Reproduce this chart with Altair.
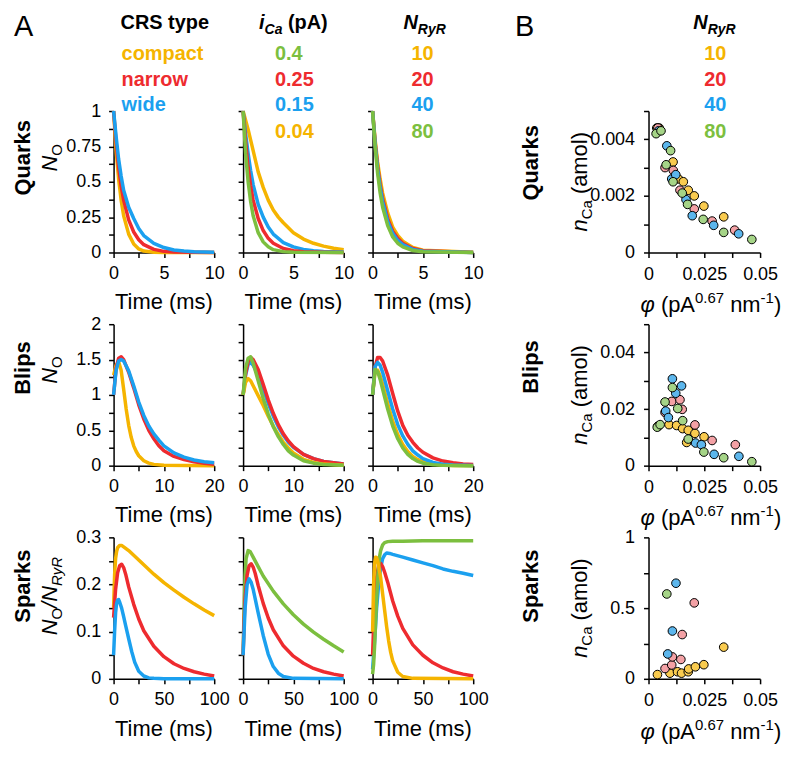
import json
import altair as alt
import pandas as pd

FONT = "Liberation Sans"
YEL, RED, BLU, GRN = "#F5B400", "#EE2B2F", "#1BA0EF", "#7CBF3F"
SYEL, SRED, SBLU, SGRN = "#F9CB4F", "#F3A1A5", "#5CB6EC", "#A5D487"

W1, W4, H = 101, 112, 142
SPACER = 118

# ---------------- legend / header text ----------------
ROW_NAMES = ["Quarks", "Blips", "Sparks"]
CRS_LABELS = ["compact", "narrow", "wide"]
CRS_COLORS = [YEL, RED, BLU]
ICA_LABELS = ["0.4", "0.25", "0.15", "0.04"]
ICA_COLORS = [GRN, RED, BLU, YEL]
NRYR_LABELS = ["10", "20", "40", "80"]
NRYR_COLORS = [YEL, RED, BLU, GRN]

# ---------------- axis ticks (all tick positions, labelled ones, their labels) ----------------
Q_XT = [0, 2.5, 5, 7.5, 10]; Q_XM = [0, 5, 10]; Q_XL = ["0", "5", "10"]
Q_YT = [0, 0.125, 0.25, 0.375, 0.5, 0.625, 0.75, 0.875, 1]
Q_YM = [0, 0.25, 0.5, 0.75, 1]; Q_YL = ["0", "0.25", "0.5", "0.75", "1"]
B_XT = [0, 5, 10, 15, 20]; B_XM = [0, 10, 20]; B_XL = ["0", "10", "20"]
B_YT = [0, 0.25, 0.5, 0.75, 1, 1.25, 1.5, 1.75, 2]
B_YM = [0, 0.5, 1, 1.5, 2]; B_YL = ["0", "0.5", "1", "1.5", "2"]
S_XT = [0, 25, 50, 75, 100]; S_XM = [0, 50, 100]; S_XL = ["0", "50", "100"]
S_YT = [0, 0.05, 0.1, 0.15, 0.2, 0.25, 0.3]; S_YM = [0, 0.1, 0.2, 0.3]; S_YL = ["0", "0.1", "0.2", "0.3"]
P_XT = [0, 0.0125, 0.025, 0.0375, 0.05]; P_XM = [0, 0.025, 0.05]; P_XL = ["0", "0.025", "0.05"]
PQ_YT = [0, 0.001, 0.002, 0.003, 0.004, 0.005]; PQ_YM = [0, 0.002, 0.004]; PQ_YL = ["0", "0.002", "0.004"]
PB_YT = [0, 0.01, 0.02, 0.03, 0.04, 0.05]; PB_YM = [0, 0.02, 0.04]; PB_YL = ["0", "0.02", "0.04"]
PS_YT = [0, 0.25, 0.5, 0.75, 1]; PS_YM = [0, 0.5, 1]; PS_YL = ["0", "0.5", "1"]

# ---------------- Quarks: CRS type ----------------
QC_YEL_T = [0, 0.25, 0.5, 0.75, 1, 1.5, 2, 2.5, 3, 4, 5, 10]
QC_YEL_V = [1.0, 0.72, 0.52, 0.37, 0.26, 0.13, 0.06, 0.025, 0.01, 0.002, 0, 0]
QC_RED_T = [0, 0.25, 0.5, 0.75, 1, 1.5, 2, 2.5, 3, 4, 5, 6, 10]
QC_RED_V = [1.0, 0.78, 0.6, 0.47, 0.37, 0.23, 0.145, 0.09, 0.055, 0.022, 0.008, 0.003, 0]
QC_BLU_T = [0, 0.25, 0.5, 0.75, 1, 1.5, 2, 2.5, 3, 4, 5, 6, 7, 8, 10]
QC_BLU_V = [1.0, 0.82, 0.66, 0.54, 0.44, 0.32, 0.24, 0.17, 0.12, 0.065, 0.035, 0.018, 0.01, 0.005, 0.002]
# ---------------- Quarks: iCa ----------------
QI_GRN_T = [0, 0.25, 0.5, 0.75, 1, 1.5, 2, 2.5, 3, 4, 5, 10]
QI_GRN_V = [1.0, 0.7, 0.5, 0.36, 0.26, 0.14, 0.075, 0.04, 0.02, 0.006, 0.002, 0]
QI_RED_T = [0, 0.25, 0.5, 0.75, 1, 1.5, 2, 2.5, 3, 4, 5, 6, 8, 10]
QI_RED_V = [1.0, 0.78, 0.6, 0.47, 0.37, 0.24, 0.155, 0.1, 0.065, 0.028, 0.012, 0.005, 0.001, 0]
QI_BLU_T = [0, 0.25, 0.5, 0.75, 1, 1.5, 2, 2.5, 3, 4, 5, 6, 7, 8, 10]
QI_BLU_V = [1.0, 0.84, 0.7, 0.58, 0.48, 0.34, 0.25, 0.18, 0.13, 0.07, 0.04, 0.022, 0.012, 0.007, 0.003]
QI_YEL_T = [0, 0.5, 1, 1.5, 2, 2.5, 3, 3.5, 4, 5, 6, 7, 8, 9, 10]
QI_YEL_V = [1.0, 0.87, 0.72, 0.57, 0.46, 0.37, 0.3, 0.25, 0.21, 0.14, 0.095, 0.065, 0.045, 0.03, 0.02]
# ---------------- Quarks: NRyR ----------------
QN_T = [0, 0.25, 0.5, 0.75, 1, 1.5, 2, 2.5, 3, 4, 5, 10]
QN_YEL_V = [1.0, 0.8, 0.64, 0.52, 0.42, 0.28, 0.18, 0.12, 0.08, 0.036, 0.016, 0.001]
QN_RED_V = [1.0, 0.78, 0.61, 0.48, 0.38, 0.24, 0.15, 0.1, 0.065, 0.028, 0.012, 0]
QN_BLU_V = [1.0, 0.77, 0.59, 0.46, 0.36, 0.22, 0.135, 0.085, 0.055, 0.022, 0.009, 0]
QN_GRN_V = [1.0, 0.75, 0.56, 0.42, 0.32, 0.19, 0.11, 0.065, 0.04, 0.014, 0.005, 0]

# ---------------- Blips: CRS type ----------------
BC_YEL_T = [0, 0.5, 1, 1.5, 2, 2.5, 3, 3.5, 4, 4.5, 5, 6, 7, 8, 10, 20]
BC_YEL_V = [1.28, 1.42, 1.47, 1.35, 1.08, 0.8, 0.57, 0.4, 0.28, 0.2, 0.14, 0.07, 0.035, 0.018, 0.005, 0]
BC_T = [0, 0.5, 1, 1.5, 2, 3, 4, 5, 6, 7, 8, 9, 10, 12, 14, 16, 18, 20]
BC_RED_V = [1.0, 1.38, 1.52, 1.54, 1.5, 1.32, 1.1, 0.86, 0.66, 0.5, 0.38, 0.28, 0.21, 0.13, 0.085, 0.055, 0.035, 0.02]
BC_BLU_V = [1.0, 1.35, 1.48, 1.5, 1.48, 1.34, 1.13, 0.9, 0.71, 0.56, 0.45, 0.36, 0.28, 0.18, 0.12, 0.08, 0.055, 0.04]
# ---------------- Blips: iCa ----------------
BI_T = [0, 0.5, 1, 1.5, 2, 3, 4, 5, 6, 7, 8, 9, 10, 12, 14, 16, 20]
BI_GRN_V = [1.0, 1.38, 1.52, 1.54, 1.45, 1.2, 0.95, 0.73, 0.55, 0.41, 0.3, 0.21, 0.15, 0.07, 0.035, 0.017, 0.005]
BI_YEL_V = [1.0, 1.18, 1.23, 1.2, 1.13, 0.99, 0.85, 0.7, 0.56, 0.44, 0.33, 0.25, 0.18, 0.09, 0.045, 0.022, 0.006]
BI_RED_V = [1.0, 1.3, 1.47, 1.53, 1.5, 1.36, 1.15, 0.93, 0.74, 0.58, 0.45, 0.35, 0.27, 0.16, 0.1, 0.06, 0.025]
BI_BLU_V = [1.0, 1.28, 1.43, 1.46, 1.42, 1.28, 1.09, 0.88, 0.7, 0.55, 0.43, 0.33, 0.26, 0.16, 0.1, 0.06, 0.025]
# ---------------- Blips: NRyR ----------------
BN_T = [0, 0.5, 1, 1.5, 2, 3, 4, 5, 6, 7, 8, 9, 10, 12, 14, 16, 18, 20]
BN_RED_V = [1.0, 1.4, 1.53, 1.53, 1.48, 1.28, 1.02, 0.77, 0.57, 0.43, 0.33, 0.25, 0.19, 0.11, 0.065, 0.04, 0.025, 0.015]
BN_BLU_V = [1.0, 1.4, 1.46, 1.42, 1.32, 1.06, 0.8, 0.58, 0.42, 0.3, 0.21, 0.15, 0.1, 0.045, 0.02, 0.01, 0.005, 0.003]
BN_YEL_V = [1.0, 1.33, 1.35, 1.27, 1.15, 0.88, 0.63, 0.44, 0.3, 0.2, 0.13, 0.085, 0.055, 0.022, 0.008, 0.003, 0.001, 0]
BN_GRN_V = [1.0, 1.36, 1.33, 1.22, 1.08, 0.8, 0.56, 0.38, 0.25, 0.16, 0.1, 0.06, 0.035, 0.012, 0.004, 0.001, 0, 0]

# ---------------- Sparks: CRS type ----------------
SC_YEL_T = [0, 1, 2, 3, 4, 6, 8, 10, 15, 20, 30, 40, 50, 60, 70, 80, 90, 100]
SC_YEL_V = [0.15, 0.22, 0.255, 0.27, 0.278, 0.283, 0.283, 0.28, 0.272, 0.262, 0.242, 0.222, 0.204, 0.188, 0.173, 0.159, 0.146, 0.134]
SC_RED_T = [0, 1, 2, 4, 6, 8, 10, 12, 15, 20, 25, 30, 40, 50, 60, 70, 80, 90, 100]
SC_RED_V = [0.13, 0.16, 0.19, 0.225, 0.24, 0.243, 0.236, 0.222, 0.195, 0.158, 0.127, 0.102, 0.069, 0.047, 0.032, 0.022, 0.015, 0.01, 0.006]
SC_BLU_T = [0, 1, 2, 3, 4, 5, 6, 8, 10, 12, 15, 18, 21, 25, 30, 35, 40, 50, 100]
SC_BLU_V = [0.05, 0.1, 0.14, 0.16, 0.167, 0.168, 0.163, 0.15, 0.132, 0.113, 0.085, 0.058, 0.035, 0.016, 0.006, 0.002, 0.001, 0, 0]
# ---------------- Sparks: iCa ----------------
SI_GRN_T = [0, 1, 2, 3, 5, 7, 10, 15, 20, 30, 40, 50, 60, 70, 80, 90, 100]
SI_GRN_V = [0.05, 0.15, 0.22, 0.255, 0.272, 0.27, 0.258, 0.238, 0.218, 0.186, 0.159, 0.136, 0.116, 0.099, 0.084, 0.07, 0.057]
SI_RED_T = [0, 1, 2, 4, 6, 8, 10, 12, 15, 20, 25, 30, 40, 50, 60, 70, 80, 90, 100]
SI_RED_V = [0.05, 0.12, 0.17, 0.22, 0.24, 0.244, 0.237, 0.224, 0.198, 0.16, 0.129, 0.104, 0.07, 0.048, 0.033, 0.022, 0.015, 0.01, 0.006]
SI_BLU_T = [0, 1, 2, 4, 6, 8, 10, 12, 15, 20, 25, 30, 35, 40, 50, 100]
SI_BLU_V = [0.05, 0.1, 0.15, 0.2, 0.212, 0.205, 0.19, 0.17, 0.14, 0.092, 0.052, 0.026, 0.012, 0.005, 0.001, 0]
# ---------------- Sparks: NRyR ----------------
SN_YEL_T = [0, 1, 2, 3, 4, 5, 6, 8, 10, 12, 14, 16, 18, 20, 25, 30, 40, 100]
SN_YEL_V = [0.1, 0.2, 0.245, 0.258, 0.257, 0.25, 0.24, 0.215, 0.18, 0.145, 0.11, 0.08, 0.056, 0.038, 0.014, 0.005, 0.001, 0]
SN_RED_T = [0, 1, 2, 4, 6, 8, 10, 12, 15, 20, 25, 30, 40, 50, 60, 70, 80, 90, 100]
SN_RED_V = [0.05, 0.11, 0.16, 0.215, 0.24, 0.245, 0.238, 0.226, 0.205, 0.165, 0.133, 0.107, 0.072, 0.05, 0.034, 0.023, 0.015, 0.01, 0.006]
SN_BLU_T = [0, 2, 4, 6, 8, 10, 12, 14, 17, 20, 30, 40, 50, 60, 70, 80, 90, 100]
SN_BLU_V = [0.02, 0.08, 0.15, 0.2, 0.235, 0.255, 0.263, 0.267, 0.266, 0.264, 0.258, 0.252, 0.246, 0.24, 0.233, 0.228, 0.224, 0.219]
SN_GRN_T = [0, 1, 2, 3, 4, 5, 6, 7, 8, 10, 12, 15, 20, 30, 50, 70, 100]
SN_GRN_V = [0.01, 0.03, 0.07, 0.12, 0.17, 0.21, 0.24, 0.26, 0.272, 0.284, 0.289, 0.291, 0.292, 0.292, 0.293, 0.293, 0.293]

# ---------------- Panel B scatter (phi, nCa) ----------------
PQ_YEL_X = [0.0037, 0.0048, 0.011, 0.0134, 0.0156, 0.0178, 0.0205, 0.0248, 0.0337]
PQ_YEL_Y = [0.0044, 0.0044, 0.0032, 0.0026, 0.0025, 0.0022, 0.0020, 0.00164, 0.00126]
PQ_RED_X = [0.0042, 0.0074, 0.0111, 0.0141, 0.0205, 0.0285, 0.0386]
PQ_RED_Y = [0.0044, 0.0030, 0.0029, 0.0022, 0.00154, 0.00111, 0.00079]
PQ_BLU_X = [0.0045, 0.0082, 0.0104, 0.0122, 0.0168, 0.0196, 0.0292, 0.0404]
PQ_BLU_Y = [0.0043, 0.00377, 0.0026, 0.00275, 0.00187, 0.0013, 0.00096, 0.00066]
PQ_GRN_X = [0.0034, 0.0056, 0.0079, 0.0099, 0.011, 0.0151, 0.0175, 0.0245, 0.0337, 0.0463]
PQ_GRN_Y = [0.0042, 0.0043, 0.0031, 0.0036, 0.0025, 0.0021, 0.0017, 0.00117, 0.00071, 0.00046]

PB_YEL_X = [0.0042, 0.0092, 0.0126, 0.0153, 0.0178, 0.0171, 0.0208, 0.0249]
PB_YEL_Y = [0.0139, 0.0145, 0.0142, 0.0131, 0.0125, 0.0082, 0.0114, 0.0102]
PB_RED_X = [0.0042, 0.0074, 0.0104, 0.0141, 0.0151, 0.0208, 0.0285, 0.0389]
PB_RED_Y = [0.0139, 0.0188, 0.0227, 0.0233, 0.0199, 0.0144, 0.0089, 0.0074]
PB_BLU_X = [0.0077, 0.0089, 0.0107, 0.0122, 0.0148, 0.0211, 0.0237, 0.0294, 0.0405]
PB_BLU_Y = [0.0193, 0.017, 0.0307, 0.0256, 0.0282, 0.008, 0.0074, 0.004, 0.0033]
PB_GRN_X = [0.0039, 0.0052, 0.0074, 0.0107, 0.0131, 0.0153, 0.0178, 0.0248, 0.0337, 0.0463]
PB_GRN_Y = [0.0136, 0.0145, 0.0225, 0.0276, 0.0202, 0.0159, 0.0094, 0.0048, 0.0028, 0.0014]

PS_YEL_X = [0.004, 0.0096, 0.013, 0.0148, 0.0178, 0.018, 0.021, 0.0248, 0.0337]
PS_YEL_Y = [0.03, 0.04, 0.05, 0.04, 0.05, 0.07, 0.085, 0.10, 0.224]
PS_RED_X = [0.0074, 0.0104, 0.0107, 0.0145, 0.0151, 0.0205]
PS_RED_Y = [0.073, 0.098, 0.155, 0.137, 0.313, 0.537]
PS_BLU_X = [0.0086, 0.0107, 0.0123]
PS_BLU_Y = [0.176, 0.338, 0.676]
PS_GRN_X = [0.0082]
PS_GRN_Y = [0.60]

# ---------------- helpers ----------------
ONE = pd.DataFrame({"k": [0]})

W_REG = {" ": 278, "(": 333, ")": 333, "p": 556, "A": 667, ".": 278, "n": 556,
         "m": 833, "-": 333, "/": 278, "N": 722, "O": 778, "R": 722, "y": 500,
         "C": 722, "a": 556, "o": 556, "l": 222, "i": 222, "\u03c6": 650}
W_BOLD = {" ": 278, "(": 333, ")": 333, "p": 611, "A": 722, ".": 278, "N": 722,
          "R": 722, "y": 556, "C": 722, "a": 556, "i": 278, "t": 333, "e": 556, "S": 667}


def tw(s, size, bold=False):
    tab = W_BOLD if bold else W_REG
    return sum(tab.get(c, 556) for c in s) / 1000.0 * size


def txt(s, x, y, size, color="black", weight="normal", style="normal",
        angle=0, align="left", baseline="alphabetic"):
    return alt.Chart(ONE).mark_text(
        text=s, font=FONT, fontSize=size, fontWeight=weight, fontStyle=style,
        color=color, angle=angle, align=align, baseline=baseline
    ).encode(x=alt.value(x), y=alt.value(y))


def compose(pieces, x, y, rotated=False, center=True):
    """pieces: (text, size, style, weight, shift) ; shift>0 = subscript."""
    total = sum(tw(p[0], p[1], p[3] == "bold") for p in pieces)
    out = []
    acc = 0.0
    start = (x - total / 2 if center else x) if not rotated else (y + total / 2 if center else y)
    for s, size, style, weight, shift in pieces:
        bold = weight == "bold"
        lead = tw(" " * (len(s) - len(s.lstrip(" "))), size, bold)
        core = s.strip(" ")
        if not rotated:
            out.append(txt(core, start + acc + lead, y + shift, size, weight=weight, style=style))
        else:
            out.append(txt(core, x + shift, start - acc - lead, size, weight=weight, style=style, angle=270))
        acc += tw(s, size, bold)
    return out


def make_axis(values, major, names, labels=True, pad=8):
    kw = dict(values=values, title=None, grid=False, domainColor="black", domainWidth=1.5,
              tickColor="black", tickWidth=1.5, tickSize=5, labels=labels, labelFont=FONT,
              labelFontSize=18, labelColor="black", labelPadding=pad, labelFlush=False,
              labelOverlap=False)
    if labels:
        m, n = json.dumps(major), json.dumps(names)
        kw["labelExpr"] = "indexof(%s, datum.value) >= 0 ? %s[indexof(%s, datum.value)] : ''" % (m, n, m)
    return alt.Axis(**kw)


def line_panel(series, xdom, ydom, xax_spec, yax_spec, ylabels, extras):
    xax = make_axis(*xax_spec, labels=True, pad=7)
    yax = make_axis(*yax_spec, labels=ylabels, pad=8)
    xs = alt.Scale(domain=xdom, nice=False, zero=False)
    ys = alt.Scale(domain=ydom, nice=False, zero=False)
    layers = []
    for t, v, c in series:
        df = pd.DataFrame({"t": t, "v": v})
        layers.append(alt.Chart(df).mark_line(color=c, strokeWidth=3.5, strokeJoin="round").encode(
            x=alt.X("t:Q", scale=xs, axis=xax), y=alt.Y("v:Q", scale=ys, axis=yax)))
    layers.append(txt("Time (ms)", W1 / 2, H + 57, 22, align="center"))
    return alt.layer(*layers, *extras).properties(width=W1, height=H)


def scatter_panel(pts, ydom, yax_spec, extras):
    xax = make_axis(P_XT, P_XM, P_XL, labels=True, pad=8)
    yax = make_axis(*yax_spec, labels=True, pad=9)
    xs = alt.Scale(domain=[0, 0.05], nice=False, zero=False)
    ys = alt.Scale(domain=ydom, nice=False, zero=False)
    layers = []
    for xv, yv, c in pts:
        df = pd.DataFrame({"x": xv, "y": yv})
        layers.append(alt.Chart(df).mark_circle(size=75, fill=c, stroke="black", strokeWidth=1, opacity=1).encode(
            x=alt.X("x:Q", scale=xs, axis=xax), y=alt.Y("y:Q", scale=ys, axis=yax)))
    extras = list(extras)
    extras += compose([("\u03c6", 22, "italic", "normal", 0), (" (pA", 22, "normal", "normal", 0),
                       ("0.67", 15, "normal", "normal", -9), (" nm", 22, "normal", "normal", 0),
                       ("-1", 15, "normal", "normal", -9), (")", 22, "normal", "normal", 0)],
                      -8, H + 60, rotated=False, center=False)
    extras += compose([("n", 22, "italic", "normal", 0), ("Ca", 15, "normal", "normal", 5),
                       (" (amol)", 22, "normal", "normal", 0)], -62, H / 2, rotated=True)
    return alt.layer(*layers, *extras).properties(width=W4, height=H)


LEG_Y = [-51, -25, 0, 27]
HEAD_Y = -82
LETTER_Y = -75


def legend(labels, colors, x):
    return [txt(l, x, LEG_Y[i], 20, color=c, weight="bold") for i, (l, c) in enumerate(zip(labels, colors))]


ROW_LY = [47, 44, 49]
ROW_RY = [52, 43, 49]


def col1_extras(r):
    ex = [txt(ROW_NAMES[r], -84, ROW_LY[r], 22, weight="bold", angle=270, align="center")]
    if r < 2:
        ex += compose([("N", 22, "italic", "normal", 0), ("O", 15, "normal", "normal", 5)],
                      -57, [47, 46][r], rotated=True)
    else:
        ex += compose([("N", 22, "italic", "normal", 0), ("O", 15, "normal", "normal", 5),
                       ("/", 22, "italic", "normal", 0), ("N", 22, "italic", "normal", 0),
                       ("RyR", 15, "italic", "normal", 5)], -57, 59, rotated=True)
    if r == 0:
        ex.append(txt("A", -100, LETTER_Y, 29))
        ex.append(txt("CRS type", 7, HEAD_Y, 20, weight="bold"))
        ex += legend(CRS_LABELS, CRS_COLORS, 8)
    return ex


def col2_extras(r):
    if r != 0:
        return []
    ex = compose([("i", 20, "italic", "bold", 0), ("Ca", 14, "italic", "bold", 5),
                  (" (pA)", 20, "normal", "bold", 0)], 16, HEAD_Y, center=False)
    return ex + legend(ICA_LABELS, ICA_COLORS, 32)


def col3_extras(r):
    if r != 0:
        return []
    ex = compose([("N", 20, "italic", "bold", 0), ("RyR", 14, "italic", "bold", 5)], 31, HEAD_Y, center=False)
    return ex + legend(NRYR_LABELS, NRYR_COLORS, 39)


def col4_extras(r):
    ex = [txt(ROW_NAMES[r], -111, ROW_RY[r], 22, weight="bold", angle=270, align="center")]
    if r == 0:
        ex.append(txt("B", -134, LETTER_Y, 29))
        ex += compose([("N", 20, "italic", "bold", 0), ("RyR", 14, "italic", "bold", 5)], 45, HEAD_Y, center=False)
        ex += legend(NRYR_LABELS, NRYR_COLORS, 56)
    return ex


def spacer():
    return alt.Chart(ONE).mark_point(opacity=0).encode(
        x=alt.value(0), y=alt.value(0)).properties(width=SPACER, height=H)


QX, QY = (Q_XT, Q_XM, Q_XL), (Q_YT, Q_YM, Q_YL)
BX, BY = (B_XT, B_XM, B_XL), (B_YT, B_YM, B_YL)
SX, SY = (S_XT, S_XM, S_XL), (S_YT, S_YM, S_YL)

panels = []
# Row 1: Quarks
panels += [
    line_panel([(QC_YEL_T, QC_YEL_V, YEL), (QC_RED_T, QC_RED_V, RED), (QC_BLU_T, QC_BLU_V, BLU)],
               [0, 10], [0, 1], QX, QY, True, col1_extras(0)),
    line_panel([(QI_YEL_T, QI_YEL_V, YEL), (QI_BLU_T, QI_BLU_V, BLU), (QI_RED_T, QI_RED_V, RED),
                (QI_GRN_T, QI_GRN_V, GRN)],
               [0, 10], [0, 1], QX, QY, False, col2_extras(0)),
    line_panel([(QN_T, QN_YEL_V, YEL), (QN_T, QN_RED_V, RED), (QN_T, QN_BLU_V, BLU), (QN_T, QN_GRN_V, GRN)],
               [0, 10], [0, 1], QX, QY, False, col3_extras(0)),
    spacer(),
    scatter_panel([(PQ_YEL_X, PQ_YEL_Y, SYEL), (PQ_RED_X, PQ_RED_Y, SRED), (PQ_BLU_X, PQ_BLU_Y, SBLU),
                   (PQ_GRN_X, PQ_GRN_Y, SGRN)], [0, 0.005], (PQ_YT, PQ_YM, PQ_YL), col4_extras(0)),
]
# Row 2: Blips
panels += [
    line_panel([(BC_YEL_T, BC_YEL_V, YEL), (BC_T, BC_RED_V, RED), (BC_T, BC_BLU_V, BLU)],
               [0, 20], [0, 2], BX, BY, True, col1_extras(1)),
    line_panel([(BI_T, BI_BLU_V, BLU), (BI_T, BI_RED_V, RED), (BI_T, BI_YEL_V, YEL), (BI_T, BI_GRN_V, GRN)],
               [0, 20], [0, 2], BX, BY, False, col2_extras(1)),
    line_panel([(BN_T, BN_YEL_V, YEL), (BN_T, BN_RED_V, RED), (BN_T, BN_BLU_V, BLU), (BN_T, BN_GRN_V, GRN)],
               [0, 20], [0, 2], BX, BY, False, col3_extras(1)),
    spacer(),
    scatter_panel([(PB_YEL_X, PB_YEL_Y, SYEL), (PB_RED_X, PB_RED_Y, SRED), (PB_BLU_X, PB_BLU_Y, SBLU),
                   (PB_GRN_X, PB_GRN_Y, SGRN)], [0, 0.05], (PB_YT, PB_YM, PB_YL), col4_extras(1)),
]
# Row 3: Sparks
panels += [
    line_panel([(SC_YEL_T, SC_YEL_V, YEL), (SC_RED_T, SC_RED_V, RED), (SC_BLU_T, SC_BLU_V, BLU)],
               [0, 100], [0, 0.3], SX, SY, True, col1_extras(2)),
    line_panel([(SI_GRN_T, SI_GRN_V, GRN), (SI_RED_T, SI_RED_V, RED), (SI_BLU_T, SI_BLU_V, BLU)],
               [0, 100], [0, 0.3], SX, SY, False, col2_extras(2)),
    line_panel([(SN_BLU_T, SN_BLU_V, BLU), (SN_RED_T, SN_RED_V, RED), (SN_GRN_T, SN_GRN_V, GRN),
                (SN_YEL_T, SN_YEL_V, YEL)],
               [0, 100], [0, 0.3], SX, SY, False, col3_extras(2)),
    spacer(),
    scatter_panel([(PS_YEL_X, PS_YEL_Y, SYEL), (PS_RED_X, PS_RED_Y, SRED), (PS_BLU_X, PS_BLU_Y, SBLU),
                   (PS_GRN_X, PS_GRN_Y, SGRN)], [0, 1], (PS_YT, PS_YM, PS_YL), col4_extras(2)),
]

chart = alt.concat(
    *panels, columns=5, spacing={"row": 72, "column": 29}, bounds="flush", align="each",
    padding={"left": 4, "top": 4, "right": 0, "bottom": 0}, background="white"
).configure_view(stroke=None)

chart.save("out.html", embed_options={"renderer": "svg", "actions": False})
